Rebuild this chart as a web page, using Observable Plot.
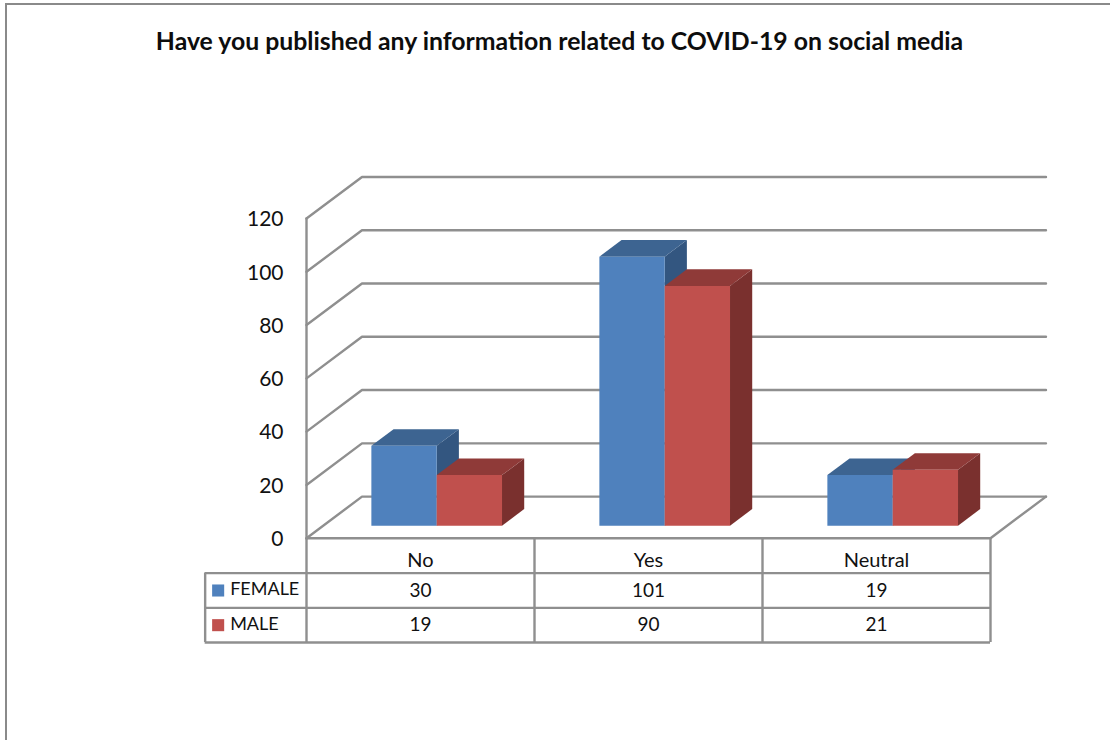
<!DOCTYPE html>
<html>
<head>
<meta charset="utf-8">
<script src="https://cdn.jsdelivr.net/npm/d3@7"></script>
<script src="https://cdn.jsdelivr.net/npm/@observablehq/plot@0.6"></script>
<style>
  html, body { margin: 0; padding: 0; background: #fff; overflow: hidden; }
  body { width: 1110px; height: 740px; position: relative; font-family: Lato, "Open Sans", sans-serif; }
  #frame { position: absolute; left: 5px; top: 3px; width: 1200px; height: 800px; border: 2px solid #8a8a8a; box-sizing: border-box; pointer-events: none; }
  #title { height: 60px; padding: 27px 0 0 9px; box-sizing: border-box; text-align: center; font-size: 24.8px; line-height: 28px; font-weight: 700; color: #0d0d0d; position: relative; white-space: nowrap; }
  svg { display: block; }
  #table { margin-top: -4px; }
</style>
</head>
<body>
<div id="frame"></div>
<div id="title">Have you published any information related to COVID-19 on social media</div>
<div id="chart"></div>
<div id="table"></div>
<script>
const textFont = "Lato, 'Open Sans', sans-serif";
const categories = ["No", "Yes", "Neutral"];
const series = ["FEMALE", "MALE"];
const female = [30, 101, 19];
const male = [19, 90, 21];
const yTicks = [0, 20, 40, 60, 80, 100, 120];
const gridColor = "#8f8f8f";
const inkColor = "#111111";
const faceColors = {
  FEMALE: {front: "#4f81bd", top: "#3d6491", side: "#335680"},
  MALE: {front: "#c0504d", top: "#8f3a38", side: "#7a302e"}
};

// Oblique projection: depth 0 is the front of the floor, depth 1 the back wall.
const depthX = 0.2434;  // category units per unit of depth
const depthY = 15.6;    // value units per unit of depth
const project = (cat, depth, value) => ({x: cat + depth * depthX, y: value + depth * depthY});

// Gridlines run along the left wall and then across the back wall.
const gridPaths = yTicks.map((v) => ({
  id: `grid-${v}`,
  points: [project(0, 0, v), project(0, 1, v), project(3, 1, v)]
}));
const gridRows = gridPaths.flatMap((g) => g.points.map((p) => ({...p, id: g.id})));
const floorRows = [project(0, 0, 0), project(3, 0, 0), project(3, 1, 0)].map((p) => ({...p, id: "floor"}));
const leftEdge = [project(0, 0, 0), project(0, 0, 120)].map((p) => ({...p, id: "axis"}));

// Each bar is three filled faces. Bars are listed left to right so later ones overlap.
const barWidth = 0.2865;
const barCentre = 0.498;
const barDepth = [0.30, 0.70];
function barFaces(seriesName, catIndex, value) {
  const left = catIndex + barCentre + (seriesName === "FEMALE" ? -barWidth : 0);
  const right = left + barWidth;
  const [d0, d1] = barDepth;
  const id = `${seriesName}-${catIndex}`;
  const c = faceColors[seriesName];
  const face = (name, fill, pts) => pts.map((p) => ({...p, id: `${id}-${name}`, fill}));
  return [
    ...face("side", c.side, [project(right, d0, 0), project(right, d1, 0), project(right, d1, value), project(right, d0, value)]),
    ...face("top", c.top, [project(left, d0, value), project(right, d0, value), project(right, d1, value), project(left, d1, value)]),
    ...face("front", c.front, [project(left, d0, 0), project(right, d0, 0), project(right, d0, value), project(left, d0, value)])
  ];
}
const faces = categories.flatMap((_, i) => [
  ...barFaces("FEMALE", i, female[i]),
  ...barFaces("MALE", i, male[i])
]);

const transparent = {background: "transparent", overflow: "visible"};

const chart = Plot.plot({
  width: 1110,
  height: 482,
  marginLeft: 306,
  marginRight: 120,
  marginTop: 158,
  marginBottom: 4.3,
  style: transparent,
  x: {domain: [0, 3], axis: null},
  y: {domain: [0, 120], axis: null},
  marks: [
    Plot.line(gridRows, {x: "x", y: "y", z: "id", stroke: gridColor, strokeWidth: 2.4}),
    Plot.line(leftEdge, {x: "x", y: "y", z: "id", stroke: gridColor, strokeWidth: 2.4}),
    Plot.line(floorRows, {x: "x", y: "y", z: "id", stroke: gridColor, strokeWidth: 2.4}),
    Plot.line(faces, {x: "x", y: "y", z: "id", fill: "fill", stroke: null}),
    Plot.axisY(yTicks, {
      anchor: "left", tickSize: 0, tickPadding: 23, fontSize: 21,
      fontFamily: textFont, fill: inkColor, dy: 1, label: null
    })
  ]
});
document.getElementById("chart").append(chart);

// Data table under the floor: one header row and one row per series.
const labelEdge = -0.4445;
const headerCells = categories.map((c, i) => ({x: i + 0.5, y: 0.65, text: c}));
const valueCells = [female, male].flatMap((vals, r) =>
  vals.map((v, i) => ({x: i + 0.5, y: r + 1.5, text: String(v)}))
);
const legendRows = series.map((s, r) => ({name: s, y: r + 1.5}));

const table = Plot.plot({
  width: 1110,
  height: 108,
  marginLeft: 306,
  marginRight: 120,
  marginTop: 0,
  marginBottom: 4,
  style: transparent,
  x: {domain: [0, 3], axis: null},
  y: {domain: [0, 3], reverse: true, axis: null},
  marks: [
    Plot.ruleY([1, 2, 3], {x1: labelEdge, x2: 3, stroke: gridColor, strokeWidth: 2.4}),
    Plot.ruleX([0, 1, 2, 3], {y1: 0, y2: 3, stroke: gridColor, strokeWidth: 2.4}),
    Plot.ruleX([labelEdge], {y1: 1, y2: 3, stroke: gridColor, strokeWidth: 2.4}),
    Plot.text(headerCells, {x: "x", y: "y", text: "text", fontSize: 20, fontFamily: textFont, fill: inkColor}),
    Plot.text(valueCells, {x: "x", y: "y", text: "text", fontSize: 19, fontFamily: textFont, fill: inkColor}),
    Plot.dot(legendRows, {
      x: labelEdge, y: "y", dx: 13, symbol: "square", r: 6.8,
      fill: (d) => faceColors[d.name].front, stroke: null
    }),
    Plot.text(legendRows, {
      x: labelEdge, y: "y", dx: 25, dy: -1, text: "name", textAnchor: "start",
      fontSize: 18, fontFamily: textFont, fill: inkColor
    })
  ]
});
document.getElementById("table").append(table);
</script>
</body>
</html>
